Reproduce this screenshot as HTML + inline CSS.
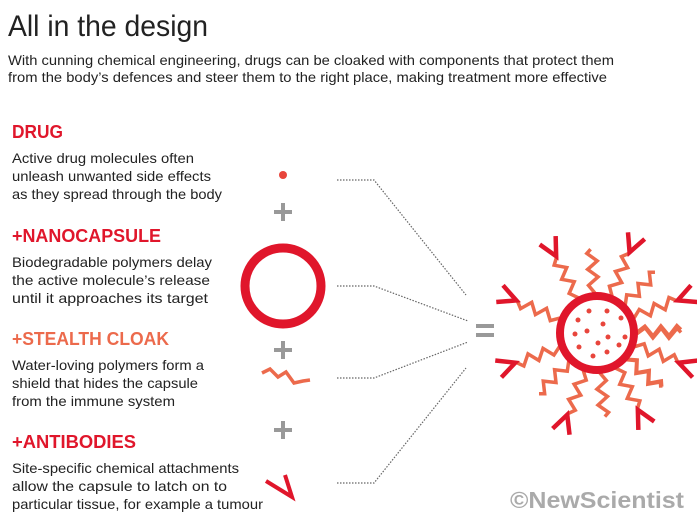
<!DOCTYPE html>
<html><head><meta charset="utf-8"><style>
html,body{margin:0;padding:0;background:#fff;}
svg{display:block}
text{font-family:"Liberation Sans",sans-serif;}
</style></head><body>
<svg id="s" width="697" height="516" viewBox="0 0 697 516" xmlns="http://www.w3.org/2000/svg">
<text x="8" y="36" font-size="30" fill="#222" textLength="200" lengthAdjust="spacingAndGlyphs">All in the design</text>
<text x="8" y="65" font-size="14" fill="#222" textLength="606" lengthAdjust="spacingAndGlyphs">With cunning chemical engineering, drugs can be cloaked with components that protect them</text>
<text x="8" y="82" font-size="14" fill="#222" textLength="599" lengthAdjust="spacingAndGlyphs">from the body’s defences and steer them to the right place, making treatment more effective</text>

<g font-weight="bold" font-size="18">
<text x="12" y="138" fill="#e0162b" textLength="51" lengthAdjust="spacingAndGlyphs">DRUG</text>
<text x="12" y="242" fill="#e0162b" textLength="149" lengthAdjust="spacingAndGlyphs">+NANOCAPSULE</text>
<text x="12" y="345" fill="#ec6a4c" textLength="157" lengthAdjust="spacingAndGlyphs">+STEALTH CLOAK</text>
<text x="12" y="448" fill="#e0162b" textLength="124" lengthAdjust="spacingAndGlyphs">+ANTIBODIES</text>
</g>
<g font-size="14" fill="#222">
<text x="12" y="163" textLength="182" lengthAdjust="spacingAndGlyphs">Active drug molecules often</text>
<text x="12" y="181" textLength="199" lengthAdjust="spacingAndGlyphs">unleash unwanted side effects</text>
<text x="12" y="199" textLength="210" lengthAdjust="spacingAndGlyphs">as they spread through the body</text>
<text x="12" y="267" textLength="200" lengthAdjust="spacingAndGlyphs">Biodegradable polymers delay</text>
<text x="12" y="285" textLength="198" lengthAdjust="spacingAndGlyphs">the active molecule’s release</text>
<text x="12" y="303" textLength="196" lengthAdjust="spacingAndGlyphs">until it approaches its target</text>
<text x="12" y="370" textLength="192" lengthAdjust="spacingAndGlyphs">Water-loving polymers form a</text>
<text x="12" y="388" textLength="186" lengthAdjust="spacingAndGlyphs">shield that hides the capsule</text>
<text x="12" y="406" textLength="163" lengthAdjust="spacingAndGlyphs">from the immune system</text>
<text x="12" y="473" textLength="227" lengthAdjust="spacingAndGlyphs">Site-specific chemical attachments</text>
<text x="12" y="491" textLength="215" lengthAdjust="spacingAndGlyphs">allow the capsule to latch on to</text>
<text x="12" y="509" textLength="251" lengthAdjust="spacingAndGlyphs">particular tissue, for example a tumour</text>
</g>

<circle cx="283" cy="175" r="4" fill="#e8453c"/>
<g stroke="#999" stroke-width="4">
<path d="M274 212h18M283 203v18"/>
<path d="M274 350h18M283 341v18"/>
<path d="M274 430h18M283 421v18"/>
<path d="M476 326h18M476 335h18"/>
</g>
<circle cx="283" cy="286" r="38" fill="none" stroke="#e0162b" stroke-width="9"/>
<path d="M262 373 L270 369 L278 377 L286 372 L294 383 L303 381 L310 380" fill="none" stroke="#ec6a4c" stroke-width="3.5"/>
<path d="M266 481 L292 497 L285 475" fill="none" stroke="#e0162b" stroke-width="4"/>

<g fill="none" stroke="#666" stroke-width="1.2" stroke-dasharray="1.5 1.5">
<path d="M337 180 H374 L466 295"/>
<path d="M337 286 H374 L468 321"/>
<path d="M337 378 H374 L468 342"/>
<path d="M337 483 H374 L466 368"/>
</g>

<g id="rays" transform="translate(597 333)"></g>
<circle cx="597" cy="333" r="37" fill="#fff" stroke="#e0162b" stroke-width="8"/>
<g fill="#e8453c">
<circle cx="589" cy="311" r="2.5"/><circle cx="607" cy="311" r="2.5"/><circle cx="578" cy="320" r="2.5"/>
<circle cx="603" cy="324" r="2.5"/><circle cx="621" cy="318" r="2.5"/><circle cx="575" cy="334" r="2.5"/>
<circle cx="587" cy="331" r="2.5"/><circle cx="608" cy="337" r="2.5"/><circle cx="625" cy="337" r="2.5"/>
<circle cx="598" cy="343" r="2.5"/><circle cx="579" cy="347" r="2.5"/><circle cx="619" cy="345" r="2.5"/>
<circle cx="593" cy="356" r="2.5"/><circle cx="607" cy="352" r="2.5"/>
</g>

<text x="684" y="508" font-size="23" font-weight="bold" fill="#aaa" text-anchor="end" textLength="174" lengthAdjust="spacingAndGlyphs">©NewScientist</text>
</svg>
<script>
var g=document.getElementById('rays'),h='';
var ab=[-118,-68,-22,20,62,110,160,-158];
for(var i=0;i<8;i++){
 var a=ab[i], b=(ab[i]+ab[(i+1)%8]+(i==7?360:0))/2;
 h+='<g transform="rotate('+a+')"><path d="M40 0 l8 -6 l8 10 l8 -10 l8 10 l8 -10 l6 6" fill="none" stroke="#ec6a4c" stroke-width="3.5"/><path d="M105 -9 L87 0 L105 9" fill="none" stroke="#e0162b" stroke-width="4.5"/></g>';
 h+='<g transform="rotate('+b+')"><path d="M40 0 l8 -6 l8 10 l8 -10 l8 10 l8 -10 l4 4" fill="none" stroke="#ec6a4c" stroke-width="3.5"/></g>';
}
g.innerHTML=h;
</script>
</body></html>
